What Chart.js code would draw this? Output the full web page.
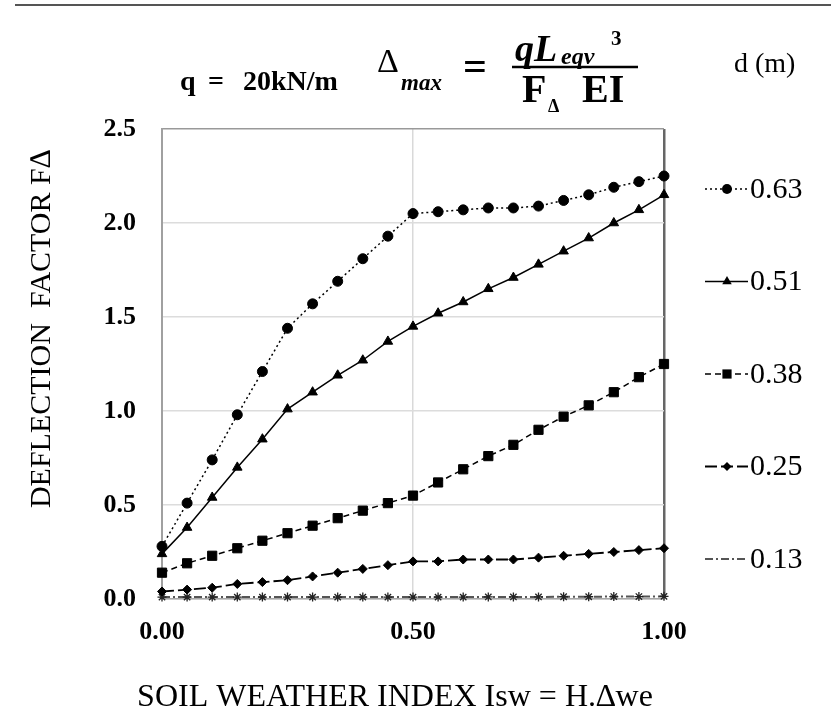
<!DOCTYPE html>
<html>
<head>
<meta charset="utf-8">
<script src="https://cdn.jsdelivr.net/npm/chart.js@4"></script>
<style>
  body { margin: 0; background: #fff; }
  #wrap { width: 831px; height: 727px; position: relative; }
</style>
</head>
<body>
<div id="wrap"><canvas id="chart" width="831" height="727"></canvas></div>
<script>
// soil weather index (x) and deflection factor per depth d (m)
const isw = [0, 0.05, 0.10, 0.15, 0.20, 0.25, 0.30, 0.35, 0.40, 0.45, 0.50,
             0.55, 0.60, 0.65, 0.70, 0.75, 0.80, 0.85, 0.90, 0.95, 1.00];
const depthLabels = ['0.63', '0.51', '0.38', '0.25', '0.13'];
const f063 = [0.28, 0.51, 0.74, 0.98, 1.21, 1.44, 1.57, 1.69, 1.81, 1.93, 2.05,
              2.06, 2.07, 2.08, 2.08, 2.09, 2.12, 2.15, 2.19, 2.22, 2.25];
const f051 = [0.24, 0.38, 0.54, 0.70, 0.85, 1.01, 1.10, 1.19, 1.27, 1.37, 1.45,
              1.52, 1.58, 1.65, 1.71, 1.78, 1.85, 1.92, 2.00, 2.07, 2.15];
const f038 = [0.14, 0.19, 0.23, 0.27, 0.31, 0.35, 0.39, 0.43, 0.47, 0.51, 0.55,
              0.62, 0.69, 0.76, 0.82, 0.90, 0.97, 1.03, 1.10, 1.18, 1.25];
const f025 = [0.04, 0.05, 0.06, 0.08, 0.09, 0.10, 0.12, 0.14, 0.16, 0.18, 0.20,
              0.20, 0.21, 0.21, 0.21, 0.22, 0.23, 0.24, 0.25, 0.26, 0.27];
const f013 = [0.010, 0.010, 0.010, 0.010, 0.010, 0.010, 0.010, 0.010, 0.010, 0.010, 0.010,
              0.010, 0.010, 0.011, 0.011, 0.011, 0.012, 0.012, 0.013, 0.013, 0.014];
const yTicks = [0, 0.5, 1.0, 1.5, 2.0, 2.5];
const xTicks = [0, 0.5, 1.0];

const SERIF = '"Liberation Serif", "Times New Roman", serif';

function pts(ys) {
    return ys.map((y, i) => ({ x: isw[i], y: y }));
}

function series(label, ys, style) {
    return Object.assign({
        label: label,
        data: pts(ys),
        borderColor: '#000',
        backgroundColor: '#000',
        pointBorderColor: '#000',
        pointBackgroundColor: '#000',
        borderWidth: 1.5,
        pointBorderWidth: 1,
        tension: 0,
        clip: false
    }, style);
}

const datasets = [
    series(depthLabels[0], f063, { borderDash: [2, 3], pointStyle: 'circle', pointRadius: 5 }),
    series(depthLabels[1], f051, { borderDash: [], pointStyle: 'triangle', pointRadius: 5.5 }),
    series(depthLabels[2], f038, { borderDash: [6, 4], pointStyle: 'rect', pointRadius: 6.5 }),
    series(depthLabels[3], f025, { borderDash: [12, 4], borderWidth: 1.8, pointStyle: 'rectRot', pointRadius: 4.5 }),
    series(depthLabels[4], f013, { borderDash: [8, 3, 2, 3], borderColor: '#555', borderWidth: 2,
        pointStyle: 'star', pointRadius: 4.5, pointBorderColor: '#222', pointBorderWidth: 1.3 })
];

// title formula, axis titles and the side legend are drawn here
const decorations = {
    id: 'decorations',
    afterDraw(chart) {
        const ctx = chart.ctx;
        ctx.save();
        ctx.fillStyle = '#000';
        ctx.textBaseline = 'alphabetic';
        ctx.textAlign = 'left';

        // top rule
        ctx.strokeStyle = '#555';
        ctx.lineWidth = 2;
        ctx.beginPath(); ctx.moveTo(15, 5); ctx.lineTo(831, 5); ctx.stroke();

        // q = 20kN/m  Δmax = qLeqv^3 / (FΔ EI)
        ctx.font = 'bold 28px ' + SERIF;
        ctx.fillText('q', 180, 90);
        ctx.fillText('=', 208, 90);
        ctx.fillText('20kN/m', 243, 90);
        ctx.font = '34px ' + SERIF;
        ctx.fillText('Δ', 377, 72);
        ctx.font = 'bold italic 23px ' + SERIF;
        ctx.fillText('max', 401, 90);
        ctx.font = 'bold 42px ' + SERIF;
        ctx.fillText('=', 463, 80);
        ctx.font = 'bold italic 38px ' + SERIF;
        ctx.fillText('qL', 515, 61);
        ctx.font = 'bold italic 24px ' + SERIF;
        ctx.fillText('eqv', 561, 64);
        ctx.font = 'bold 21px ' + SERIF;
        ctx.fillText('3', 611, 45);
        ctx.lineWidth = 2.5;
        ctx.strokeStyle = '#000';
        ctx.beginPath(); ctx.moveTo(512, 67); ctx.lineTo(638, 67); ctx.stroke();
        ctx.font = 'bold 40px ' + SERIF;
        ctx.fillText('F', 522, 102);
        ctx.fillText('EI', 582, 102);
        ctx.font = 'bold 18px ' + SERIF;
        ctx.fillText('Δ', 548, 112);

        ctx.font = '28px ' + SERIF;
        ctx.fillText('d (m)', 734, 72);

        // axis titles
        ctx.font = '32px ' + SERIF;
        ctx.textAlign = 'center';
        ctx.textBaseline = 'middle';
        ctx.fillText('SOIL WEATHER INDEX Isw = H.∆we', 395, 698);
        ctx.save();
        ctx.translate(42, 329);
        ctx.rotate(-Math.PI / 2);
        ctx.font = '30px ' + SERIF;
        ctx.fillText('DEFLECTION  FACTOR F∆', 0, 0);
        ctx.restore();

        // legend: line sample + marker + label
        ctx.textAlign = 'left';
        chart.data.datasets.forEach((ds, i) => {
            const y = 189 + i * 92.5;
            ctx.save();
            ctx.strokeStyle = ds.borderColor;
            ctx.lineWidth = ds.borderWidth;
            ctx.setLineDash(ds.borderDash || []);
            ctx.beginPath(); ctx.moveTo(705, y); ctx.lineTo(748, y); ctx.stroke();
            ctx.setLineDash([]);
            ctx.fillStyle = ds.pointBackgroundColor;
            ctx.strokeStyle = ds.pointBorderColor;
            ctx.lineWidth = ds.pointBorderWidth;
            Chart.helpers.drawPoint(ctx, { pointStyle: ds.pointStyle, radius: ds.pointRadius, rotation: 0 }, 727, y);
            ctx.restore();
            ctx.font = '30px ' + SERIF;
            ctx.fillStyle = '#000';
            ctx.fillText(ds.label, 750, y + 1);
        });
        ctx.restore();
    }
};

new Chart(document.getElementById('chart').getContext('2d'), {
    type: 'line',
    data: { datasets: datasets },
    plugins: [decorations],
    options: {
        responsive: false,
        animation: false,
        layout: { padding: { left: 0, right: 167, top: 129, bottom: 0 } },
        plugins: { legend: { display: false }, tooltip: { enabled: false } },
        scales: {
            x: {
                type: 'linear',
                min: 0, max: 1,
                afterBuildTicks: (scale) => { scale.ticks = xTicks.map(v => ({ value: v })); },
                afterFit: (scale) => { scale.height = 128; },
                ticks: {
                    padding: 18,
                    color: '#000',
                    font: { family: SERIF, size: 26, weight: 'bold' },
                    callback: (v) => Number(v).toFixed(2),
                    maxRotation: 0
                },
                grid: {
                    drawTicks: false,
                    color: (c) => c.tick && c.tick.value === 1 ? '#666' : '#d9d9d9',
                    lineWidth: (c) => c.tick && c.tick.value === 1 ? 2.5 : 1.5
                },
                border: { color: '#a6a6a6', width: 1.5 }
            },
            y: {
                min: 0, max: 2.5,
                afterBuildTicks: (scale) => { scale.ticks = yTicks.map(v => ({ value: v })); },
                afterFit: (scale) => { scale.width = 162; },
                ticks: {
                    padding: 26,
                    color: '#000',
                    font: { family: SERIF, size: 26, weight: 'bold' },
                    callback: (v) => Number(v).toFixed(1)
                },
                grid: {
                    drawTicks: false,
                    color: (c) => c.tick && c.tick.value === 2.5 ? '#999' : '#dcdcdc',
                    lineWidth: 1.5
                },
                border: { color: '#a0a0a0', width: 2 }
            }
        }
    }
});
</script>
</body>
</html>
